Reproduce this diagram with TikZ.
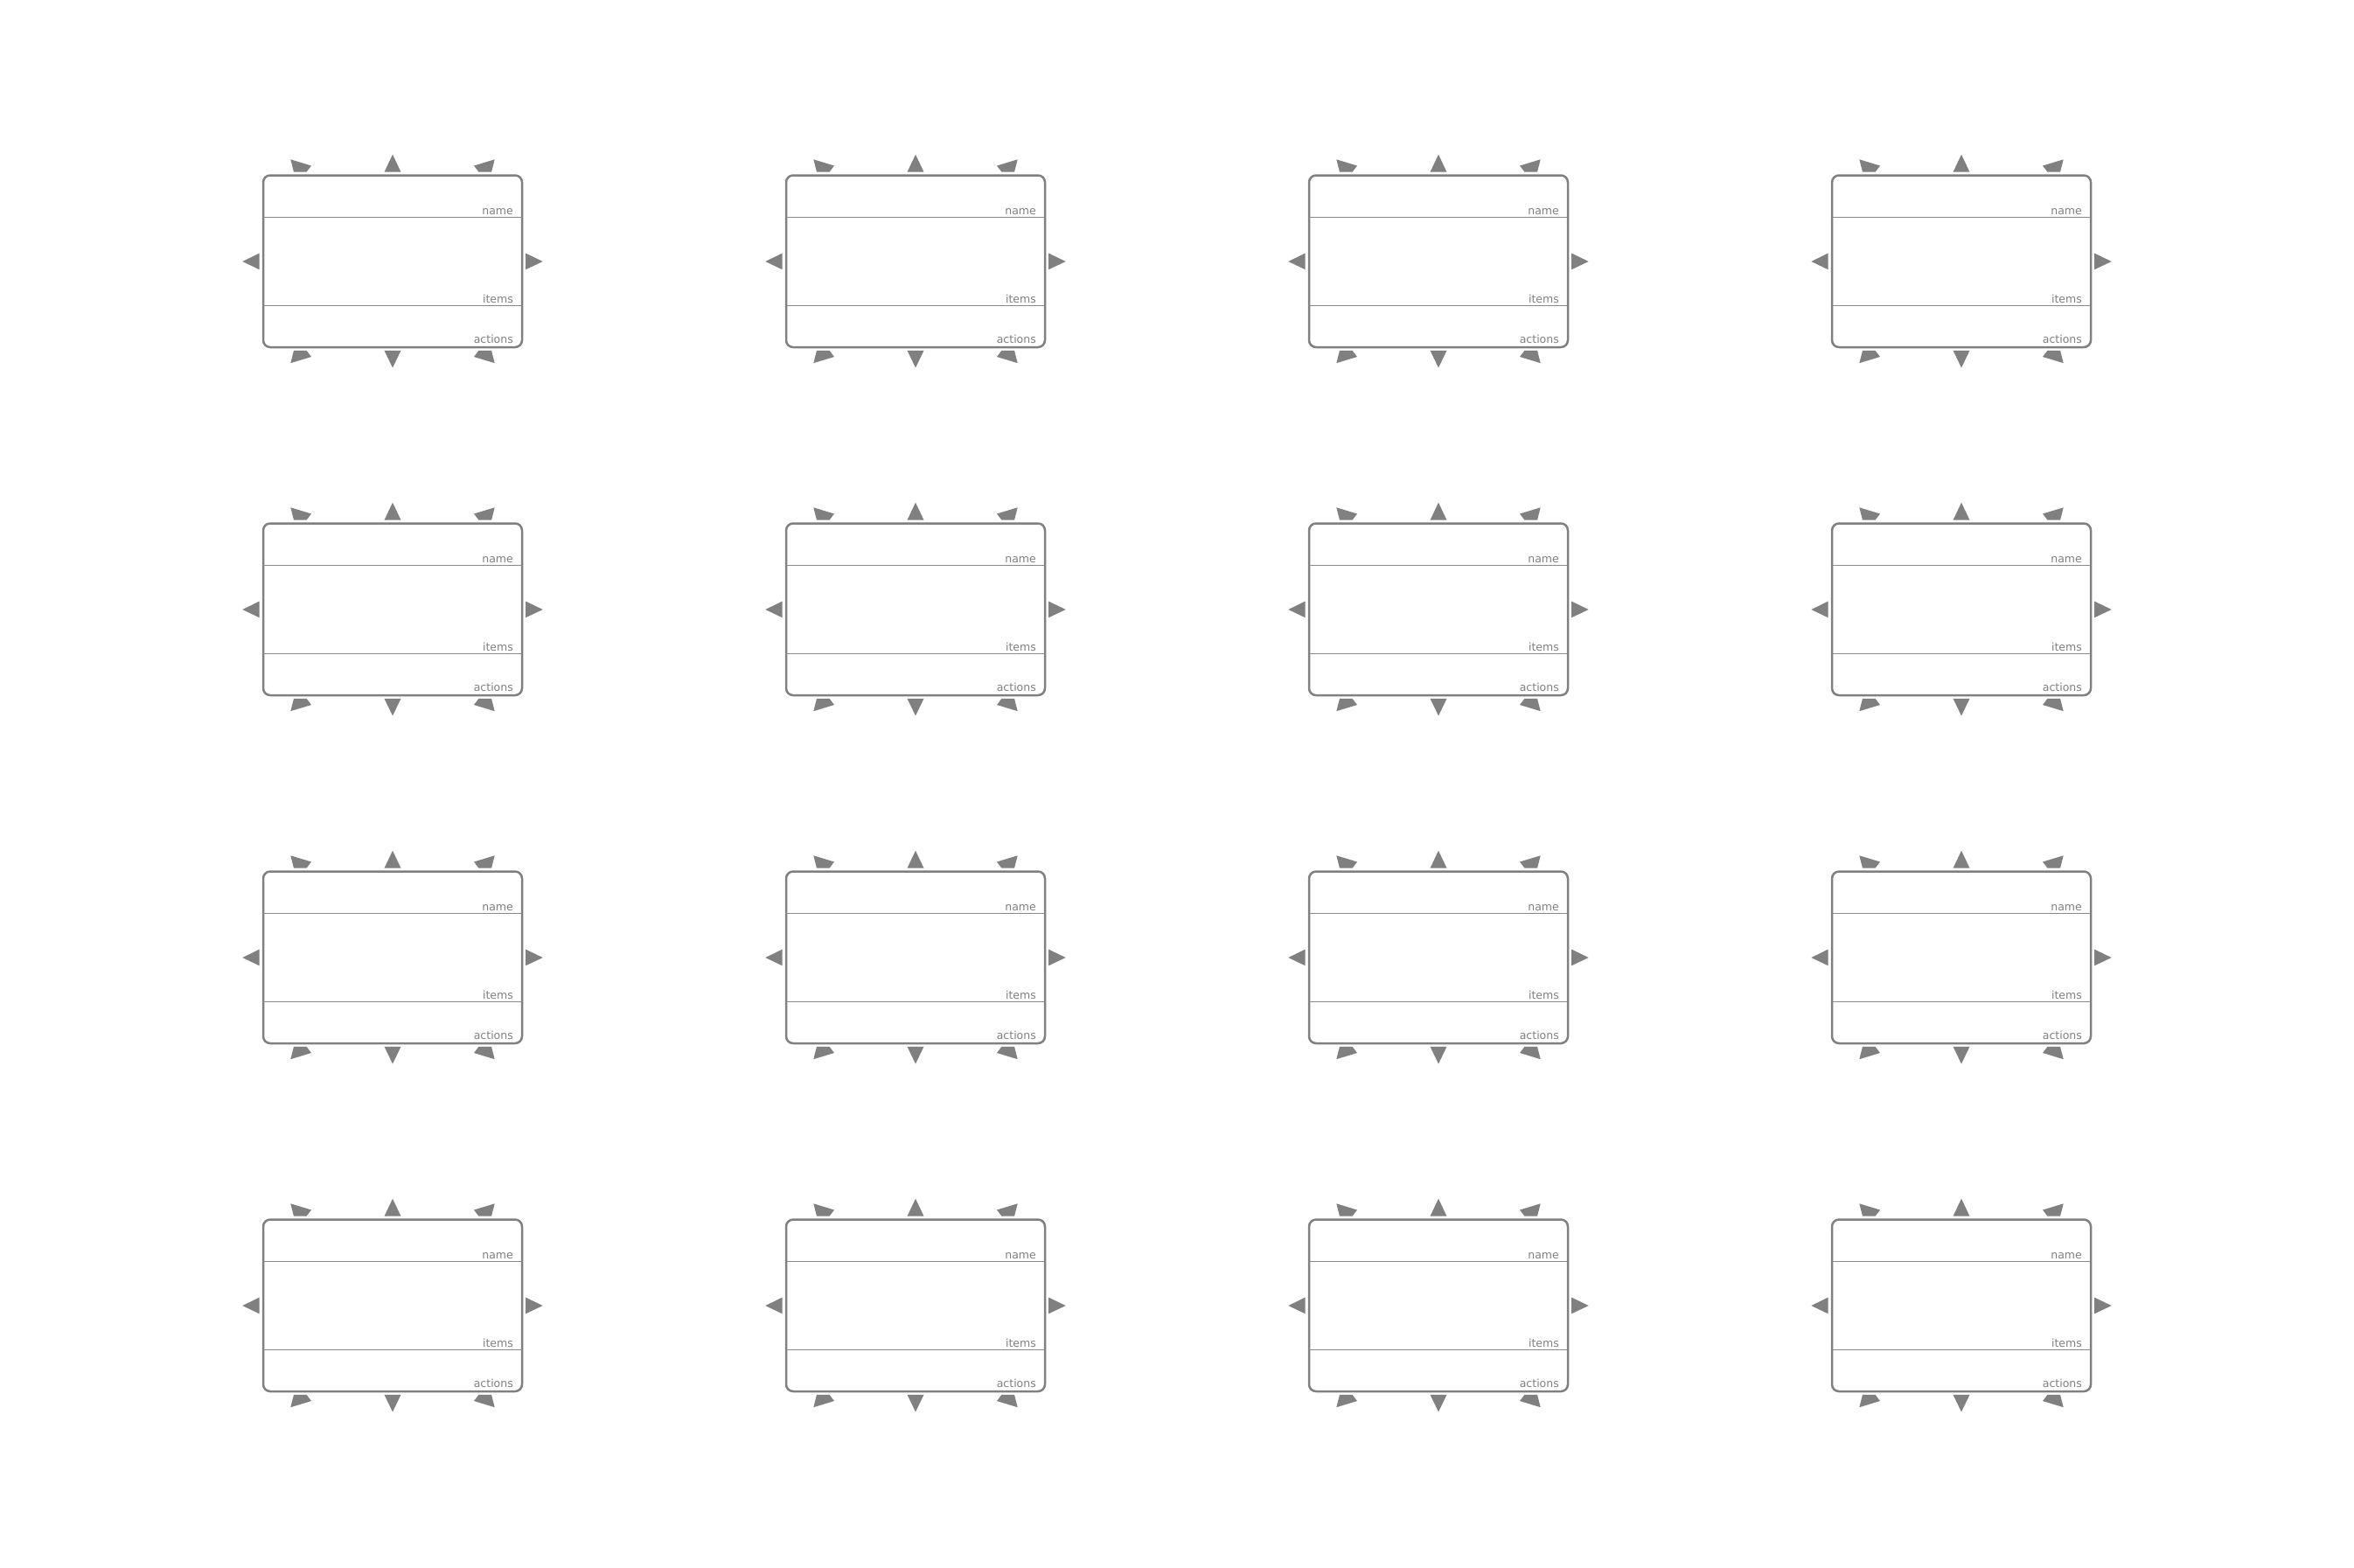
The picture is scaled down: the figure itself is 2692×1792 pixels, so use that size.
\documentclass[tikz,border=0pt]{standalone}
\usepackage{fontspec}
\setmainfont{DejaVu Sans}
\definecolor{ink}{HTML}{808080}
\definecolor{rule}{HTML}{8A8A8A}
\begin{document}
\begin{tikzpicture}[x=1pt,y=-1pt,
  boxnode/.style={draw=ink, line width=2.5pt, rounded corners=8pt, minimum width=296pt, minimum height=196.5pt, inner sep=0pt, outer sep=0pt, fill=white},
  divider/.style={draw=rule, line width=1.1pt},
  lbl/.style={anchor=base east, text=ink, font=\fontsize{12.5}{14}\selectfont, inner sep=0pt},
  port/.style={fill=ink}]
\useasboundingbox[fill=white] (0,0) rectangle (2692,1792);
\foreach \i in {0,...,3}{
 \foreach \j in {0,...,3}{
  \begin{scope}[shift={(300+598*\i,200+398*\j)}]
   \node[boxnode] (b\i\j) at (149,98.75) {};
   \draw[divider] (b\i\j.west |- 0,48.3) -- (b\i\j.east |- 0,48.3);
   \draw[divider] (b\i\j.west |- 0,149.3) -- (b\i\j.east |- 0,149.3);
   \node[lbl] (nm\i\j) at (287,45) {name};
   \node[lbl] (it\i\j) at (287,146) {items};
   \node[lbl] (ac\i\j) at (287,192) {actions};
   % ports: top
   \fill[port] (36,-3.3) -- (50.5,-3.3) -- (56,-10.5) -- (32.3,-17.7) -- cycle;
   \fill[port] (139.5,-3.3) -- (158.5,-3.3) -- (149,-23.3) -- cycle;
   \fill[port] (262,-3.3) -- (247.5,-3.3) -- (242,-10.5) -- (265.7,-17.7) -- cycle;
   % ports: bottom
   \fill[port] (36,200.8) -- (50.5,200.8) -- (56,208) -- (32.3,215.2) -- cycle;
   \fill[port] (139.5,200.8) -- (158.5,200.8) -- (149,220.5) -- cycle;
   \fill[port] (262,200.8) -- (247.5,200.8) -- (242,208) -- (265.7,215.2) -- cycle;
   % ports: sides
   \fill[port] (-3.3,89.5) -- (-3.3,108.3) -- (-22.7,99) -- cycle;
   \fill[port] (301,89.5) -- (301,108.3) -- (320.7,99) -- cycle;
  \end{scope}
 }}
\end{tikzpicture}
\end{document}
